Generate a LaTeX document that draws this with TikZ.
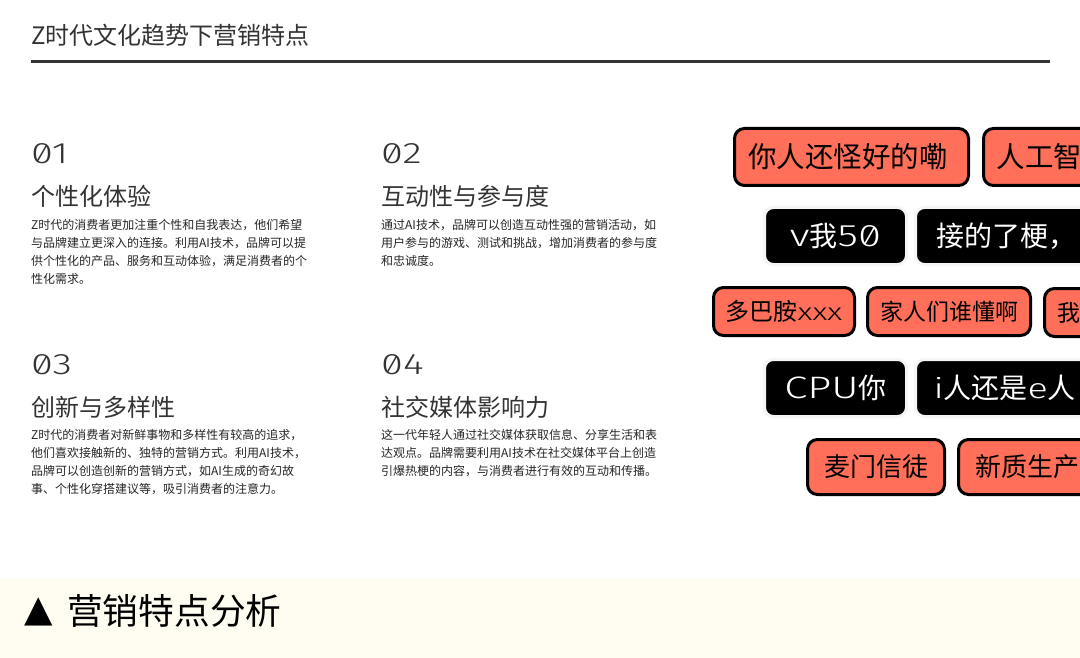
\documentclass[tikz,border=0pt]{standalone}
\usepackage{fontspec}
\setmainfont{Noto Sans CJK SC}
\newfontfamily\widefont[FakeStretch=1.35,RawFeature=+zero]{Fira Sans Light}
\newfontfamily\symfont{DejaVu Sans}
\definecolor{chipred}{HTML}{FF6F59}
\definecolor{bandcream}{HTML}{FFFCF1}
\definecolor{inkgray}{HTML}{333333}
\tikzset{
  headtext/.style={anchor=west,inner sep=0pt,text=inkgray,font=\fontsize{24}{24}\selectfont},
  numtext/.style={anchor=west,inner sep=0pt,text=inkgray,font=\fontsize{29.5}{29.5}\selectfont\widefont},
  bodytext/.style={anchor=north west,inner sep=0pt,align=left,text=black!85,font=\fontsize{12}{18}\selectfont},
  redchip/.style={anchor=west,draw=black,line width=3pt,fill=chipred,rounded corners=10pt,text=black,inner ysep=0pt},
  darkchip/.style={anchor=west,draw=black!4,line width=3pt,fill=black,rounded corners=9pt,text=white,inner ysep=0pt},
}

\begin{document}
\begin{tikzpicture}[x=1pt,y=-1pt]
    % page
    \clip (0,0) rectangle (1080,658);
    \fill[white] (0,0) rectangle (1080,658);

    % title
    \node[headtext] (title) at (31,35) {Z时代文化趋势下营销特点};
    \coordinate (rule left) at (31,62);
    \coordinate (rule right) at (1050,62);
    \draw[inkgray,line width=3pt] (rule left) -- (rule right);

    % four blocks
    \node[numtext] (num1) at (31,154) {01};
    \node[headtext] (head1) at (31,196) {个性化体验};
    \node[bodytext] (body1) at (31,219.5) {Z时代的消费者更加注重个性和自我表达，他们希望\\与品牌建立更深入的连接。利用AI技术，品牌可以提\\供个性化的产品、服务和互动体验，满足消费者的个\\性化需求。};

    \node[numtext] (num2) at (381,154) {02};
    \node[headtext] (head2) at (381,196) {互动性与参与度};
    \node[bodytext] (body2) at (381,219.5) {通过AI技术，品牌可以创造互动性强的营销活动，如\\用户参与的游戏、测试和挑战，增加消费者的参与度\\和忠诚度。};

    \node[numtext] (num3) at (31,365) {03};
    \node[headtext] (head3) at (31,407) {创新与多样性};
    \node[bodytext] (body3) at (31,429.5) {Z时代的消费者对新鲜事物和多样性有较高的追求，\\他们喜欢接触新的、独特的营销方式。利用AI技术，\\品牌可以创造创新的营销方式，如AI生成的奇幻故\\事、个性化穿搭建议等，吸引消费者的注意力。};

    \node[numtext] (num4) at (381,365) {04};
    \node[headtext] (head4) at (381,407) {社交媒体影响力};
    \node[bodytext] (body4) at (381,429.5) {这一代年轻人通过社交媒体获取信息、分享生活和表\\达观点。品牌需要利用AI技术在社交媒体平台上创造\\引爆热梗的内容，与消费者进行有效的互动和传播。};

    % chips, row by row
    \node[redchip,minimum height=57pt,text width=207pt,align=left,inner xsep=13.5pt,font=\fontsize{28.5}{28.5}\selectfont] (chip ni) at (733,157) {\raisebox{1.5pt}{你人还怪好的嘞}};
    \node[redchip,minimum height=57pt,text width=200pt,align=left,inner xsep=13pt,font=\fontsize{28.5}{28.5}\selectfont] (chip ai) at (982,157) {\raisebox{1.5pt}{人工智}};

    \node[darkchip,minimum width=142pt,minimum height=57pt,font=\fontsize{28}{28}\selectfont] (chip v) at (763,236) {\raisebox{1pt}{{\fontsize{31}{31}\selectfont\widefont v}我{\fontsize{31}{31}\selectfont\widefont 50}}};
    \node[darkchip,minimum height=57pt,text width=200pt,align=left,inner xsep=20.5pt,font=\fontsize{28}{28}\selectfont] (chip geng) at (914,236) {\raisebox{1pt}{接的了梗，}};

    \node[redchip,minimum width=141pt,minimum height=48pt,font=\fontsize{24}{24}\selectfont] (chip duo) at (712,311.5) {多巴胺{\widefont xxx}};
    \node[redchip,minimum width=163pt,minimum height=48pt,font=\fontsize{23}{23}\selectfont] (chip jia) at (866,311.5) {家人们谁懂啊};
    \node[redchip,minimum height=48pt,text width=100pt,align=left,inner xsep=13pt,font=\fontsize{23}{23}\selectfont] (chip wo) at (1043,312.5) {我};

    \node[darkchip,minimum width=142pt,minimum height=57pt,font=\fontsize{28}{28}\selectfont] (chip cpu) at (763,388) {\raisebox{1pt}{{\fontsize{31}{31}\selectfont\widefont CPU}你}};
    \node[darkchip,minimum height=57pt,text width=200pt,align=left,inner xsep=18pt,font=\fontsize{28}{28}\selectfont] (chip ie) at (914,388) {\raisebox{1pt}{{\widefont i}人还是{\widefont e}人}};

    \node[redchip,minimum width=137pt,minimum height=55pt,font=\fontsize{26}{26}\selectfont] (chip mai) at (806,467) {麦门信徒};
    \node[redchip,minimum height=55pt,text width=200pt,align=left,inner xsep=17pt,font=\fontsize{26}{26}\selectfont] (chip xin) at (957,467) {新质生产};

    % bottom band
    \fill[bandcream] (0,578) rectangle (1080,658);
    \node[anchor=center,inner sep=0pt,text=black,font=\fontsize{37}{37}\selectfont\symfont] (mark) at (38.5,612) {▲};
    \node[anchor=west,inner sep=0pt,text=black,font=\fontsize{35.7}{35.7}\selectfont] (caption) at (67,611) {营销特点分析};
\end{tikzpicture}
\end{document}
